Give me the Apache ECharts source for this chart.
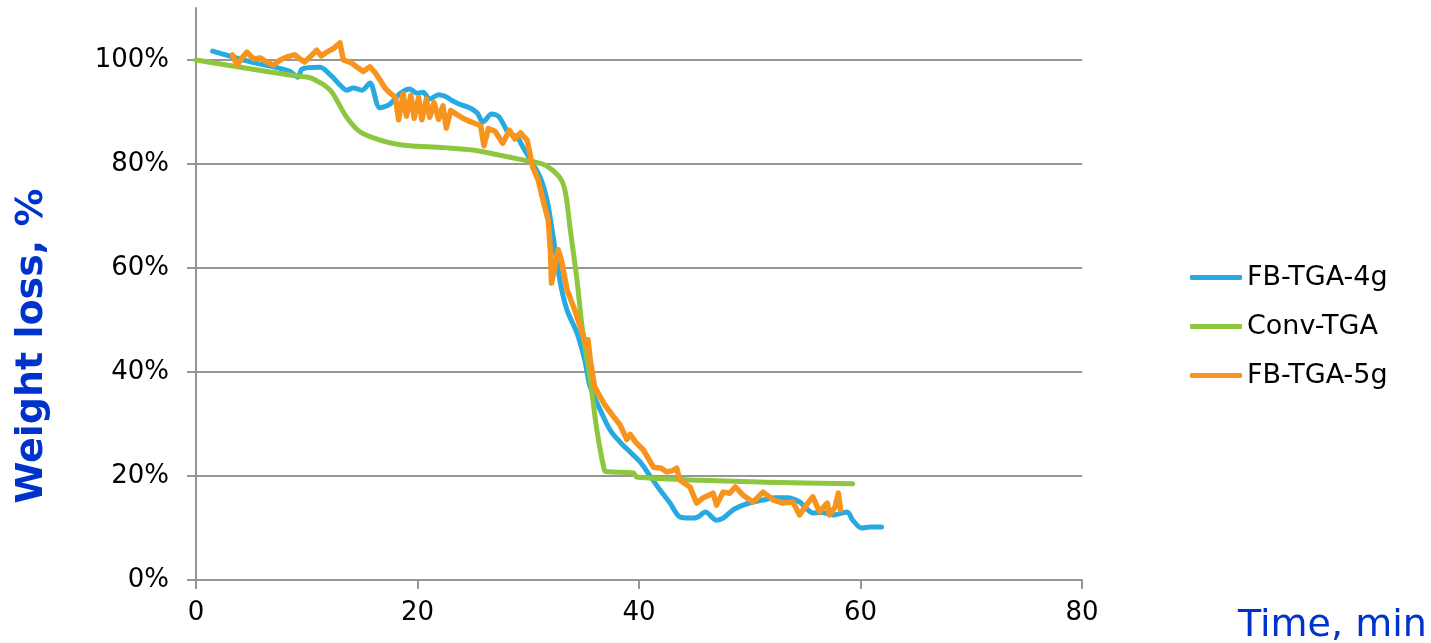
<!DOCTYPE html>
<html>
<head>
<meta charset="utf-8">
<script src="https://cdn.jsdelivr.net/npm/echarts@6/dist/echarts.min.js"></script>
<style>
html,body{margin:0;padding:0;background:#fff;}
#chart{width:1431px;height:643px;}
</style>
</head>
<body>
<div id="chart"></div>
<script>
// ---- data ----
var seriesNames = ['FB-TGA-4g', 'Conv-TGA', 'FB-TGA-5g'];
var xTicks = [0, 20, 40, 60, 80];
var yTicks = [0, 20, 40, 60, 80, 100];

var fb4Time = [1.5,3.0,5.0,7.0,8.5,9.2,9.6,11.2,12.2,13.0,13.6,14.2,15.0,15.7,16.6,17.5,18.4,19.3,20.0,20.5,21.1,21.9,22.7,23.1,23.8,24.7,25.4,25.9,26.7,27.3,27.7,28.2,29.0,29.5,30.2,31.1,31.7,32.2,32.9,33.5,34.4,35.1,35.6,36.5,37.4,38.3,39.2,40.1,41.0,41.9,42.8,43.7,44.6,45.3,46.0,47.0,47.6,48.5,49.4,50.3,51.2,52.3,53.4,54.5,55.7,56.5,57.5,58.8,59.3,60.1,60.9,61.9];
var fb4Value = [101.7,100.8,99.6,98.7,97.8,96.7,98.3,98.6,97.0,95.2,94.2,94.6,94.2,95.6,90.8,91.5,93.5,94.4,93.6,93.8,92.5,93.3,92.8,92.2,91.5,90.8,89.8,88.1,89.6,89.2,87.9,86.0,85.2,83.3,80.8,77.3,73.0,66.7,57.1,51.9,47.5,42.3,37.1,32.7,28.8,26.5,24.6,22.7,20.0,17.3,14.8,12.1,11.9,12.1,13.1,11.5,11.9,13.5,14.4,15.0,15.4,15.8,15.8,15.0,12.9,13.0,12.5,13.1,11.5,10.0,10.2,10.2];

var convTime = [0,4.6,8.5,10.3,10.8,11.5,12.2,12.7,13.6,14.8,16.6,18.4,20.0,22.7,25.0,27.4,29.5,31.3,32.2,33.0,33.4,33.8,34.4,34.9,35.6,36.2,36.9,37.2,39.5,39.8,45.5,51.6,59.3];
var convValue = [100,98.4,97.1,96.6,96.1,95.3,94.0,92.3,89.0,86.2,84.6,83.7,83.4,83.1,82.7,81.7,80.8,80.0,78.8,76.9,74.0,67.3,57.7,48.0,38.5,28.8,21.0,20.8,20.6,19.8,19.2,18.8,18.5];

var fb5Time = [3.3,3.7,4.2,4.6,5.2,5.8,6.4,7.0,7.6,8.2,8.9,9.4,9.8,10.4,10.9,11.3,11.8,12.4,13.0,13.3,14.0,14.5,15.1,15.7,16.2,16.6,17.1,17.5,18.0,18.3,18.7,19.0,19.4,19.7,20.1,20.4,20.8,21.1,21.5,21.9,22.3,22.6,23.0,23.5,24.1,24.6,25.2,25.7,26.0,26.4,27.0,27.7,28.3,28.8,29.3,29.9,30.4,30.9,31.4,31.8,32.0,32.1,32.4,32.7,33.0,33.5,34.2,34.7,35.3,35.4,35.6,36.0,36.5,36.9,37.6,38.3,38.9,39.2,39.7,40.4,41.3,42.0,42.5,43.0,43.4,43.7,44.6,45.2,45.8,46.7,47.0,47.6,48.2,48.7,49.4,50.3,51.2,52.1,53.0,53.9,54.5,55.1,55.7,56.3,57.0,57.2,57.7,58.0,58.2];
var fb5Value = [101.0,99.0,100.5,101.5,100.2,100.4,99.6,99.0,100.0,100.6,101.0,100.2,99.6,100.8,101.9,100.8,101.5,102.2,103.3,100.0,99.5,98.7,97.8,98.7,97.5,96.2,94.5,93.7,92.8,88.5,93.5,89.2,93.2,88.8,92.8,88.5,92.5,89.0,91.8,88.6,91.2,86.9,90.3,89.6,88.8,88.3,87.8,87.4,83.5,86.8,86.3,84.0,86.5,84.8,86.0,84.6,79.4,76.9,72.5,69.2,63.5,57.1,60.2,63.5,61.5,55.8,51.9,48.7,44.8,46.2,42.3,37.1,35.2,33.7,31.7,29.8,27.0,28.0,26.5,25.0,21.7,21.5,20.8,21.0,21.5,19.2,17.9,14.8,15.8,16.7,14.4,16.9,16.7,17.9,16.3,15.0,16.9,15.4,14.8,15.0,12.5,14.4,16.0,13.1,14.8,12.5,14.0,16.7,13.5];

function pairs(t, v) { return t.map(function (x, i) { return [x, v[i]]; }); }

var colors = ['#27A9E1', '#8DC63F', '#F7941D'];
var FONT = 'DejaVu Sans';
var GRID_GRAY = '#969696';

var chart = echarts.init(document.getElementById('chart'), null, {renderer: 'canvas'});
chart.setOption({
  animation: false,
  color: colors,
  title: {
    text: 'Time, min',
    left: 1233, top: 602,
    textStyle: {fontFamily: FONT, fontSize: 38, fontWeight: 'normal', color: '#0033CC'}
  },
  legend: {
    orient: 'vertical',
    left: 1185, top: 259,
    itemWidth: 52, itemHeight: 5, itemGap: 22,
    icon: 'roundRect',
    data: seriesNames,
    textStyle: {fontFamily: FONT, fontSize: 27, color: '#000'}
  },
  grid: {left: 196, right: 349, top: 8, bottom: 63, containLabel: false, outerBoundsMode: 'none'},
  xAxis: {
    type: 'value', min: xTicks[0], max: xTicks[xTicks.length - 1], interval: 20,
    axisLine: {lineStyle: {color: GRID_GRAY, width: 2}},
    axisTick: {show: true, length: 9, lineStyle: {color: GRID_GRAY, width: 2}},
    axisLabel: {fontFamily: FONT, fontSize: 26, color: '#000', margin: 20},
    splitLine: {show: false}
  },
  yAxis: {
    type: 'value', min: 0, max: 110, interval: 20,
    name: 'Weight loss, %', nameLocation: 'middle', nameGap: 145,
    nameTextStyle: {fontFamily: FONT, fontSize: 38, fontWeight: 'bold', color: '#0033CC', padding: [0, 104, 0, 0]},
    axisLine: {show: true, lineStyle: {color: GRID_GRAY, width: 2}},
    axisTick: {show: true, length: 9, customValues: yTicks, lineStyle: {color: GRID_GRAY, width: 2}},
    axisLabel: {fontFamily: FONT, fontSize: 26, color: '#000', margin: 27, customValues: yTicks,
      formatter: function (v) { return v > 100 ? '' : v + '%'; }},
    splitLine: {show: true, lineStyle: {color: [GRID_GRAY, GRID_GRAY, GRID_GRAY, GRID_GRAY, GRID_GRAY, GRID_GRAY, 'rgba(0,0,0,0)'], width: 2}}
  },
  series: [
    {name: seriesNames[0], type: 'line', data: pairs(fb4Time, fb4Value), showSymbol: false, symbol: 'none', smooth: 0.3,
      lineStyle: {width: 5, color: colors[0], cap: 'round', join: 'round'}, itemStyle: {color: colors[0]}},
    {name: seriesNames[1], type: 'line', data: pairs(convTime, convValue), showSymbol: false, symbol: 'none', smooth: 0.3,
      lineStyle: {width: 5, color: colors[1], cap: 'round', join: 'round'}, itemStyle: {color: colors[1]}},
    {name: seriesNames[2], type: 'line', data: pairs(fb5Time, fb5Value), showSymbol: false, symbol: 'none',
      lineStyle: {width: 5.5, color: colors[2], cap: 'round', join: 'round'}, itemStyle: {color: colors[2]}}
  ]
});
</script>
</body>
</html>
